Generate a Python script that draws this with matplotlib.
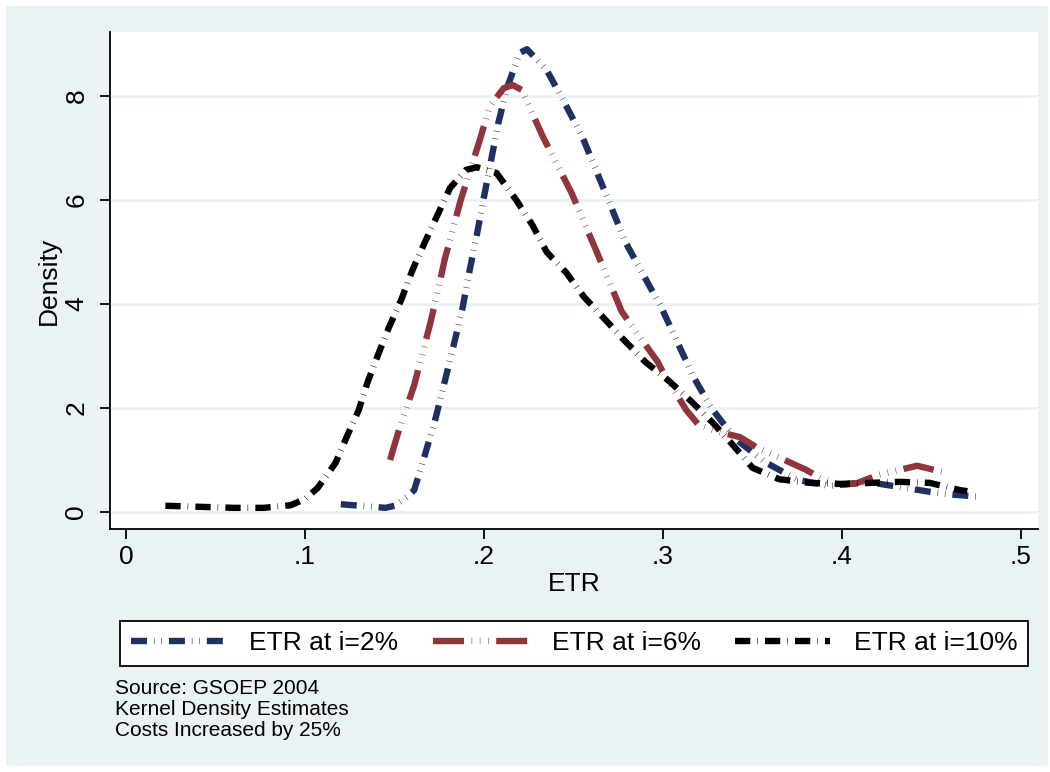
import matplotlib
matplotlib.use("Agg")
import matplotlib.pyplot as plt
from matplotlib.patches import Rectangle

# ETR at i=2%
etr2_x = [0.120, 0.145, 0.150, 0.157, 0.161, 0.167, 0.173, 0.178, 0.183, 0.188, 0.192,
          0.196, 0.200, 0.204, 0.208, 0.213, 0.220, 0.224, 0.235, 0.245, 0.255, 0.263,
          0.271, 0.279, 0.289, 0.299, 0.308, 0.317, 0.327, 0.340, 0.357, 0.375, 0.393,
          0.414, 0.436, 0.456, 0.478]
etr2_y = [0.15, 0.08, 0.12, 0.29, 0.42, 1.10, 1.81, 2.50, 3.20, 3.92, 4.65,
          5.33, 6.06, 6.77, 7.48, 8.17, 8.83, 8.90, 8.50, 7.87, 7.21, 6.54,
          5.87, 5.19, 4.56, 3.94, 3.27, 2.60, 2.00, 1.42, 0.96, 0.62, 0.50,
          0.58, 0.46, 0.35, 0.29]

# ETR at i=6%
etr6_x = [0.1475, 0.152, 0.161, 0.170, 0.175, 0.178, 0.187, 0.198, 0.203, 0.211, 0.216,
          0.221, 0.233, 0.249, 0.263, 0.277, 0.287, 0.297, 0.300, 0.313, 0.320, 0.330,
          0.343, 0.352, 0.380, 0.388, 0.399, 0.408, 0.420, 0.442, 0.456]
etr6_y = [1.00, 1.52, 2.44, 3.63, 4.37, 4.85, 6.00, 7.19, 7.79, 8.15, 8.21,
          8.12, 7.21, 6.13, 5.00, 3.85, 3.37, 2.89, 2.69, 1.96, 1.67, 1.55,
          1.44, 1.25, 0.81, 0.65, 0.52, 0.55, 0.71, 0.89, 0.77]

# ETR at i=10%
etr10_x = [0.022, 0.041, 0.060, 0.077, 0.092, 0.100, 0.107, 0.117, 0.123, 0.130, 0.135,
           0.141, 0.147, 0.154, 0.160, 0.167, 0.174, 0.181, 0.190, 0.196, 0.207, 0.218,
           0.227, 0.235, 0.246, 0.256, 0.268, 0.277, 0.290, 0.304, 0.316, 0.328, 0.339,
           0.350, 0.365, 0.382, 0.399, 0.416, 0.432, 0.449, 0.466, 0.470]
etr10_y = [0.12, 0.10, 0.08, 0.08, 0.13, 0.25, 0.46, 0.94, 1.42, 1.96, 2.50,
           3.04, 3.56, 4.10, 4.65, 5.19, 5.71, 6.23, 6.58, 6.63, 6.52, 6.00,
           5.52, 5.00, 4.60, 4.13, 3.69, 3.35, 2.89, 2.50, 2.12, 1.71, 1.29,
           0.85, 0.63, 0.56, 0.54, 0.56, 0.58, 0.56, 0.42, 0.40]

x_ticks = [0, 0.1, 0.2, 0.3, 0.4, 0.5]
x_ticklabels = ["0", ".1", ".2", ".3", ".4", ".5"]
y_ticks = [0, 2, 4, 6, 8]
y_ticklabels = ["0", "2", "4", "6", "8"]
notes = ["Source: GSOEP 2004", "Kernel Density Estimates", "Costs Increased by 25%"]

BG = "#eaf2f3"
W, H = 1050, 772

plt.rcParams["font.family"] = ["Liberation Sans", "DejaVu Sans"]
plt.rcParams["lines.scale_dashes"] = False

fig = plt.figure(figsize=(W / 100, H / 100), dpi=100)
fig.patch.set_facecolor("white")
fig.patches.append(Rectangle((6 / W, 6 / H), 1042 / W, 760 / H, transform=fig.transFigure,
                             facecolor=BG, edgecolor="none", zorder=-10))

ax = fig.add_axes([110 / W, 1 - 529 / H, 928 / W, 497 / H])
ax.set_facecolor("white")

lw = 4.6
ax.plot(etr2_x, etr2_y, color="#1e3160", lw=lw, label="ETR at i=2%",
        dashes=[11.5, 5, 0.4, 5, 0.4, 5])
ax.plot(etr6_x, etr6_y, color="#90353b", lw=lw, label="ETR at i=6%",
        dashes=[22.3, 5.5, 0.4, 5.5, 0.4, 5.5, 0.4, 5.5])
ax.plot(etr10_x, etr10_y, color="black", lw=lw, label="ETR at i=10%",
        dashes=[11, 5, 0.4, 5.2])

ax.set_xlim((110 - 126) / 1790, (1038 - 126) / 1790)
ax.set_ylim((512 - 529) / 52, (512 - 32) / 52)

ax.set_xticks(x_ticks)
ax.set_xticklabels(x_ticklabels, fontsize=19)
ax.set_yticks(y_ticks)
ax.set_yticklabels(y_ticklabels, fontsize=19, rotation=90, va="center")
ax.tick_params(axis="both", direction="out", length=7.5, width=1.3, colors="black")
ax.tick_params(axis="x", pad=4)
ax.tick_params(axis="y", pad=8)

ax.grid(axis="y", color=BG, lw=2)
ax.set_axisbelow(True)
for side in ["top", "right"]:
    ax.spines[side].set_visible(False)
for side in ["left", "bottom"]:
    ax.spines[side].set_linewidth(1.3)

ax.set_xlabel("ETR", fontsize=19)
ax.xaxis.set_label_coords(0.5, (529 - 572) / 497)
ax.set_ylabel("Density", fontsize=19)
ax.yaxis.set_label_coords((61 - 110) / 928, 0.5)

leg = fig.legend(loc="lower left", bbox_to_anchor=(120 / W, 1 - 666 / H, 908 / W, 49 / H),
                 mode="expand", ncol=3, fontsize=19, handlelength=3.6, handletextpad=0.9,
                 borderaxespad=0, fancybox=False, framealpha=1, edgecolor="black")
leg.get_frame().set_linewidth(1.3)

for i, line in enumerate(notes):
    fig.text(115 / W, 1 - (689 + 20.5 * i) / H, line, fontsize=15, va="center", ha="left")

plt.savefig("out.png", dpi=100, facecolor=fig.get_facecolor())
